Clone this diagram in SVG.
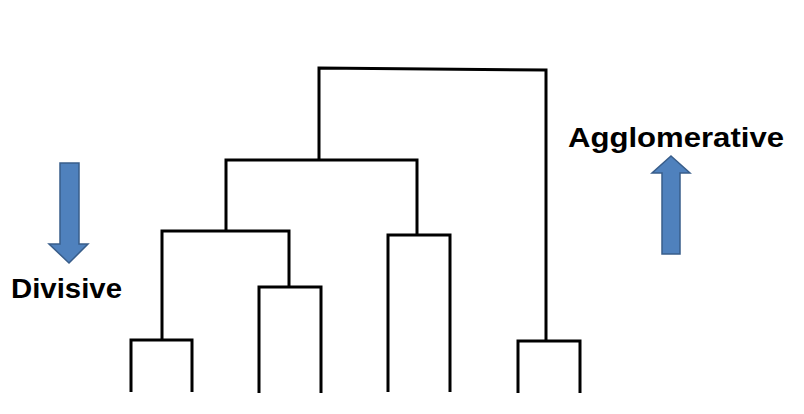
<svg xmlns="http://www.w3.org/2000/svg" width="804" height="414" viewBox="0 0 804 414">
<style>
.br{fill:none;stroke:#000;stroke-width:3;stroke-linejoin:miter;stroke-linecap:butt}
.arr{fill:#4F81BD;stroke:#385D8A;stroke-width:1.5;stroke-linejoin:miter}
.lbl{font-family:"Liberation Sans",Arial,sans-serif;font-weight:bold;fill:#000}
</style>
<rect width="804" height="414" fill="#fff"/>
<g id="connectors">
<g id="merge-root"><path class="br" d="M319,160 V68 L546,70 V341"/></g>
<g id="merge-left"><path class="br" d="M226,231 V160 H417 V235"/></g>
<g id="merge-left-left"><path class="br" d="M162,340 V231 H289 V287"/></g>
<g id="cluster-1"><path class="br" d="M131,392 V340 H192 V392"/></g>
<g id="cluster-2"><path class="br" d="M259,393 V287 H321 V393"/></g>
<g id="cluster-3"><path class="br" d="M388,392 V235 H450 V392"/></g>
<g id="cluster-4"><path class="br" d="M518,393 V341 H580 V393"/></g>
</g>
<g id="divisive">
<path class="arr" d="M60,163 H79 V244 H88 L69,263 L49,244 H60 Z"/>
<text class="lbl" x="11" y="298" font-size="27" textLength="111" lengthAdjust="spacingAndGlyphs">Divisive</text>
</g>
<g id="agglomerative">
<path class="arr" d="M671,156 L690,173 H680 V254 H662 V173 H652 Z"/>
<text class="lbl" x="568" y="147" font-size="28" textLength="216" lengthAdjust="spacingAndGlyphs">Agglomerative</text>
</g>
</svg>
